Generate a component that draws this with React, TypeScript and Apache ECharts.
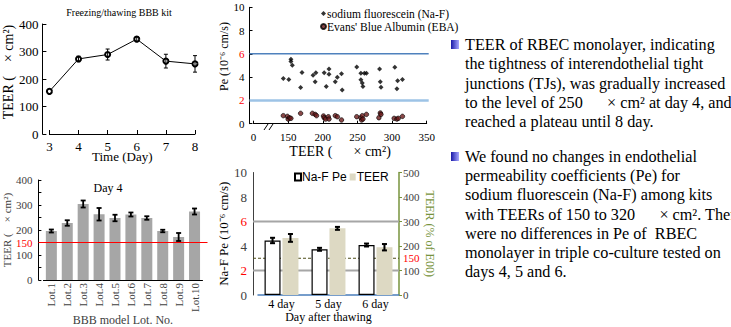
import React, { useEffect, useRef } from 'react';
import * as echarts from 'echarts';

// ---- Chart 1: Freezing/thawing BBB kit ----
const freezeDays = [3, 4, 5, 6, 7, 8];
const freezeTeer = [155, 273, 289, 345, 265, 255];
const freezeErr = [0, 10, 20, 8, 25, 30];

// ---- Chart 2: Pe vs TEER scatter ----
const nafPoints = [
  [143, 3.89], [151, 3.8], [154, 5.54], [154, 5.35], [156, 5.03], [168, 3.1], [170, 4.4],
  [186, 4.17], [189, 3.6], [190, 4.37], [202, 4.37], [205, 3.2], [209, 4.71], [209, 4.25],
  [218, 3.6], [221, 4.0], [227, 4.3], [228, 2.89], [249, 4.88], [255, 4.34], [255, 3.77],
  [257, 3.5], [258, 3.2], [260, 4.34], [263, 4.34], [282, 4.71], [283, 3.6], [284, 3.14],
  [304, 4.86], [307, 3.0], [308, 3.68], [315, 3.8],
];
const ebaPoints = [
  [143, 0.69], [149, 0.63], [150, 0.4], [152, 0.5], [154, 0.46], [168, 0.89], [185, 0.89],
  [189, 0.8], [191, 0.69], [201, 0.66], [202, 0.51], [204, 0.4], [208, 0.6], [209, 0.4],
  [218, 0.69], [221, 0.6], [227, 0.32], [249, 0.6], [255, 0.51], [256, 0.32], [257, 0.69],
  [258, 0.4], [263, 0.8], [281, 0.51], [283, 0.92], [284, 0.8], [303, 0.46], [307, 0.4],
  [309, 0.46], [315, 0.63],
];
const peRefLines = [6, 2];

// ---- Chart 3: Day 4 lots ----
const lots = ['Lot.1', 'Lot.2', 'Lot.3', 'Lot.4', 'Lot.5', 'Lot.6', 'Lot.7', 'Lot.8', 'Lot.9', 'Lot.10'];
const lotTeer = [196, 228, 304, 263, 248, 262, 248, 196, 172, 274];
const lotErr = [6, 11, 14, 25, 13, 8, 7, 5, 16, 12];
const lotThreshold = [150];

// ---- Chart 4: Day after thawing ----
const thawDays = ['4 day', '5 day', '6 day'];
const nafPe = [4.45, 3.73, 4.08];
const nafPeErr = [0.22, 0.12, 0.12];
const teerPct = [233, 272, 195];
const teerPctErr = [16, 6, 13];
const peLines = [6, 2];
const teerLine = [150];

// ---- Text ----
const para1 = [
  'TEER of RBEC monolayer, indicating',
  'the tightness of interendothelial tight',
  'junctions (TJs), was gradually increased',
  'to the level of 250      × cm² at day 4, and',
  'reached a plateau until 8 day.',
];
const para2 = [
  'We found no changes in endothelial',
  'permeability coefficients (Pe) for',
  'sodium fluorescein (Na-F) among kits',
  'with TEERs of 150 to 320      × cm². There',
  'were no differences in Pe of  RBEC',
  'monolayer in triple co-culture tested on',
  'days 4, 5 and 6.',
];

const serif = 'Liberation Serif';
const sans = 'Liberation Sans';

function errorBars(xs: any[], vals: number[], errs: number[], xAxisIndex: number, yAxisIndex: number, o: { offset: number; cap: number; width: number; color: string }) {
  const data = vals.map((v, i) => [xs[i], v - errs[i], v + errs[i]]).filter((_, i) => errs[i] > 0);
  return {
    type: 'custom',
    xAxisIndex,
    yAxisIndex,
    z: 10,
    silent: true,
    encode: { x: 0, y: [1, 2] },
    data,
    renderItem: (params: any, api: any) => {
      const x = api.value(0);
      const lo = api.coord([x, api.value(1)]);
      const hi = api.coord([x, api.value(2)]);
      const cx = lo[0] + o.offset;
      const style = { stroke: o.color, lineWidth: o.width };
      return {
        type: 'group',
        children: [
          { type: 'line', shape: { x1: cx, y1: lo[1], x2: cx, y2: hi[1] }, style },
          { type: 'line', shape: { x1: cx - o.cap, y1: lo[1], x2: cx + o.cap, y2: lo[1] }, style },
          { type: 'line', shape: { x1: cx - o.cap, y1: hi[1], x2: cx + o.cap, y2: hi[1] }, style },
        ],
      };
    },
  };
}

function hLines(values: number[], xVal: any, xAxisIndex: number, yAxisIndex: number, styles: any[], extL: number, extR: number, z: number) {
  return {
    type: 'custom',
    xAxisIndex,
    yAxisIndex,
    z,
    silent: true,
    encode: { x: 0, y: 1 },
    data: values.map((v) => [xVal, v]),
    renderItem: (params: any, api: any) => {
      const cs = params.coordSys;
      const p = api.coord([api.value(0), api.value(1)]);
      return {
        type: 'line',
        shape: { x1: cs.x - extL, y1: p[1], x2: cs.x + cs.width + extR, y2: p[1] },
        style: styles[params.dataIndex],
      };
    },
  };
}

export default function App() {
  const ref = useRef<HTMLDivElement>(null);
  useEffect(() => {
    document.body.style.margin = '0';
    const chart = echarts.init(ref.current!, null, { renderer: 'svg' });
    const black = { color: '#000', width: 1 };
    const option: any = {
      animation: false,
      backgroundColor: '#fff',
      textStyle: { fontFamily: serif },
      title: [
        { text: 'Freezing/thawing BBB kit', left: 119, top: 7, textAlign: 'center', padding: 0, textStyle: { fontSize: 10, fontFamily: serif, fontWeight: 'normal', color: '#000' } },
        { text: 'Day 4', left: 108, top: 182, textAlign: 'center', padding: 0, textStyle: { fontSize: 12, fontFamily: serif, fontWeight: 'normal', color: '#000' } },
      ],
      legend: [
        {
          data: ['sodium fluorescein (Na-F)', "Evans' Blue Albumin (EBA)"],
          orient: 'vertical', left: 320, top: 7, padding: 0, itemGap: 0, itemWidth: 5, itemHeight: 5,
          textStyle: { fontFamily: serif, fontSize: 11.5, lineHeight: 13, color: '#000', padding: [0, 0, 0, -4] },
        },
        {
          data: ['Na-F Pe', 'TEER'],
          orient: 'horizontal', left: 294, top: 171, padding: 0, itemGap: 3, itemWidth: 6, itemHeight: 7, icon: 'rect',
          textStyle: { fontFamily: sans, fontSize: 12, color: '#000', padding: [0, 0, 0, -4] },
        },
      ],
      grid: [
        { left: 49, top: 24, width: 146, height: 110 },
        { left: 253.5, top: 7.3, width: 173.2, height: 116.4 },
        { left: 38.5, top: 180, width: 164, height: 114.3 },
        { left: 258, top: 172.5, width: 141, height: 122.5 },
      ],
      xAxis: [
        {
          gridIndex: 0, type: 'value', min: 3, max: 8, interval: 1, offset: 2,
          axisLine: { show: true, lineStyle: black }, splitLine: { show: false },
          axisTick: { show: true, inside: true, length: 4, lineStyle: black },
          axisLabel: { fontFamily: serif, fontSize: 13, color: '#000', margin: 4 },
          name: 'Time (Day)', nameLocation: 'middle', nameGap: 14, nameMoveOverlap: false,
          nameTextStyle: { fontFamily: serif, fontSize: 13, color: '#000' },
        },
        {
          gridIndex: 1, type: 'value', min: 100, max: 350, interval: 50, offset: 3.5,
          axisLine: { show: true, lineStyle: black }, splitLine: { show: false },
          axisTick: { show: true, inside: true, length: 3, lineStyle: black },
          axisLabel: { fontFamily: serif, fontSize: 11, color: '#000', margin: 4, formatter: (v: number) => (v === 100 ? '0' : String(v)) },
          name: 'TEER (      × cm²)', nameLocation: 'middle', nameGap: 17,
          nameTextStyle: { fontFamily: serif, fontSize: 14, color: '#000' },
        },
        {
          gridIndex: 2, type: 'category', data: lots,
          axisLine: { show: true, lineStyle: black }, axisTick: { show: false },
          axisLabel: { fontFamily: serif, fontSize: 11, color: '#404040', rotate: 90, margin: 3, interval: 0 },
          name: 'BBB model Lot. No.', nameLocation: 'middle', nameGap: 34, nameMoveOverlap: false,
          nameTextStyle: { fontFamily: serif, fontSize: 12, color: '#404040' },
        },
        {
          gridIndex: 3, type: 'category', data: thawDays,
          axisLine: { show: true, lineStyle: { color: '#4a7ebb', width: 1.5 } }, axisTick: { show: false },
          axisLabel: { fontFamily: serif, fontSize: 12, color: '#000', margin: 3 },
          name: 'Day after thawing', nameLocation: 'middle', nameGap: 12,
          nameTextStyle: { fontFamily: serif, fontSize: 12, color: '#000' },
        },
      ],
      yAxis: [
        {
          gridIndex: 0, type: 'value', min: 0, max: 400, interval: 100, offset: 7,
          axisLine: { show: true, lineStyle: black }, splitLine: { show: false },
          axisTick: { show: true, inside: true, length: 4, lineStyle: black },
          axisLabel: { fontFamily: serif, fontSize: 13, color: '#000', margin: 4 },
          name: 'TEER (    × cm²)', nameLocation: 'middle', nameGap: 21, nameRotate: 90,
          nameTextStyle: { fontFamily: serif, fontSize: 14, color: '#000', padding: [0, 0, 0, 14] },
        },
        {
          gridIndex: 1, type: 'value', min: 0, max: 10, interval: 2, offset: 4,
          axisLine: { show: true, lineStyle: black }, splitLine: { show: false },
          axisTick: { show: true, inside: true, length: 3, lineStyle: black },
          axisLabel: {
            fontFamily: serif, fontSize: 11, color: '#000', margin: 5,
            formatter: (v: number) => (v === 6 || v === 2 ? `{r|${v}}` : String(v)),
            rich: { r: { color: '#ff0000', fontFamily: serif, fontSize: 11 } },
          },
          name: 'Pe (10⁻⁶ cm/s)', nameLocation: 'middle', nameGap: 15, nameRotate: 90,
          nameTextStyle: { fontFamily: serif, fontSize: 12, color: '#000', padding: [0, 0, 0, 18] },
        },
        {
          gridIndex: 2, type: 'value', min: 0, max: 400, interval: 50, offset: 5,
          axisLine: { show: true, lineStyle: black }, splitLine: { show: false },
          axisTick: { show: true, inside: true, length: 3, lineStyle: black },
          axisLabel: {
            fontFamily: serif, fontSize: 11, color: '#404040', margin: 6,
            formatter: (v: number) => (v === 150 ? '{r|150}' : v % 100 === 0 ? String(v) : ''),
            rich: { r: { color: '#ff0000', fontFamily: serif, fontSize: 11 } },
          },
          name: 'TEER (    × cm²)', nameLocation: 'middle', nameGap: 18, nameRotate: 90,
          nameTextStyle: { fontFamily: serif, fontSize: 11, color: '#404040' },
        },
        {
          gridIndex: 3, type: 'value', position: 'left', min: 0, max: 10, interval: 2, offset: 5,
          axisLine: { show: true, lineStyle: { color: '#404040', width: 1 } }, splitLine: { show: false },
          axisTick: { show: false },
          axisLabel: {
            fontFamily: serif, fontSize: 13, color: '#404040', margin: 6,
            formatter: (v: number) => (v === 6 || v === 2 ? `{r|${v}}` : String(v)),
            rich: { r: { color: '#ff0000', fontFamily: serif, fontSize: 13 } },
          },
          name: 'Na-F Pe (10⁻⁶ cm/s)', nameLocation: 'middle', nameGap: 17, nameRotate: 90,
          nameTextStyle: { fontFamily: serif, fontSize: 13, color: '#000' },
        },
        {
          gridIndex: 3, type: 'value', position: 'right', min: 0, max: 500, interval: 50,
          axisLine: { show: true, lineStyle: { color: '#77933c', width: 1.5 } }, splitLine: { show: false },
          axisTick: { show: true, inside: false, length: 3, lineStyle: { color: '#77933c' }, customValues: [0, 100, 200, 300, 400, 500] },
          axisLabel: {
            fontFamily: serif, fontSize: 11, color: '#404040', margin: 4,
            formatter: (v: number) => (v === 150 ? '{r|150}' : v % 100 === 0 ? String(v) : ''),
            rich: { r: { color: '#ff0000', fontFamily: serif, fontSize: 11 } },
          },
          name: 'TEER (% of E00)', nameLocation: 'middle', nameGap: 25, nameRotate: -90,
          nameTextStyle: { fontFamily: serif, fontSize: 12, color: '#77933c' },
        },
      ],
      series: [
        {
          name: 'freeze', type: 'line', xAxisIndex: 0, yAxisIndex: 0,
          data: freezeDays.map((d, i) => [d, freezeTeer[i]]),
          symbol: 'emptyCircle', symbolSize: 5,
          lineStyle: { color: '#000', width: 1 }, itemStyle: { color: '#000', borderColor: '#000', borderWidth: 1 },
        },
        errorBars(freezeDays, freezeTeer, freezeErr, 0, 0, { offset: 0, cap: 2, width: 1, color: '#000' }),
        hLines(peRefLines, 100, 1, 1, [
          { stroke: '#4f81bd', lineWidth: 1.5 },
          { stroke: '#9dc3e6', lineWidth: 2.5 },
        ], 4, 2, 1),
        {
          name: 'sodium fluorescein (Na-F)', type: 'scatter', xAxisIndex: 1, yAxisIndex: 1,
          data: nafPoints, symbol: 'diamond', symbolSize: 5, itemStyle: { color: '#000' },
        },
        {
          name: "Evans' Blue Albumin (EBA)", type: 'scatter', xAxisIndex: 1, yAxisIndex: 1,
          data: ebaPoints, symbol: 'circle', symbolSize: 4.5, itemStyle: { color: '#6b1a1a', borderColor: '#000', borderWidth: 0.8 },
        },
        {
          name: 'lots', type: 'bar', xAxisIndex: 2, yAxisIndex: 2, data: lotTeer, barWidth: 11,
          itemStyle: { color: '#a6a6a6' },
        },
        hLines(lotThreshold, 0, 2, 2, [
          { stroke: '#ff0000', lineWidth: 1.2 },
        ], 5, 5, 5),
        errorBars(lots.map((_, i) => i), lotTeer, lotErr, 2, 2, { offset: 0, cap: 2.5, width: 1.8, color: '#000' }),
        hLines(peLines, 0, 3, 3, [
          { stroke: '#a6a6a6', lineWidth: 2 },
          { stroke: '#a6a6a6', lineWidth: 2 },
        ], 5, 0, 1),
        hLines(teerLine, 0, 3, 4, [
          { stroke: '#4d4d1a', lineWidth: 1, lineDash: [3, 2] },
        ], 5, 0, 1),
        {
          name: 'Na-F Pe', type: 'bar', xAxisIndex: 3, yAxisIndex: 3, data: nafPe, barWidth: 16, barGap: '12%', z: 3,
          itemStyle: { color: '#ffffff', borderColor: '#000', borderWidth: 1.2 },
        },
        {
          name: 'TEER', type: 'bar', xAxisIndex: 3, yAxisIndex: 4, data: teerPct, barWidth: 16, barGap: '12%', z: 3,
          itemStyle: { color: '#ddd9c3' },
        },
        errorBars(thawDays.map((_, i) => i), nafPe, nafPeErr, 3, 3, { offset: -8.96, cap: 2.5, width: 2, color: '#000' }),
        errorBars(thawDays.map((_, i) => i), teerPct, teerPctErr, 3, 4, { offset: 8.96, cap: 2.5, width: 2, color: '#000' }),
      ],
      graphic: [
        { type: 'rect', z: 100, shape: { x: 265, y: 125, width: 8, height: 5 }, style: { fill: '#fff' } },
        { type: 'line', z: 101, shape: { x1: 264, y1: 130, x2: 268, y2: 124 }, style: { stroke: '#000', lineWidth: 1 } },
        { type: 'line', z: 101, shape: { x1: 269, y1: 130, x2: 273, y2: 124 }, style: { stroke: '#000', lineWidth: 1 } },
        {
          type: 'rect', z: 100, shape: { x: 451, y: 40, width: 8, height: 9 },
          style: { fill: { type: 'linear', x: 0, y: 0, x2: 1, y2: 0, colorStops: [{ offset: 0, color: '#1a1aa8' }, { offset: 1, color: '#a8a8ff' }] } },
        },
        {
          type: 'rect', z: 100, shape: { x: 451, y: 152, width: 8, height: 9 },
          style: { fill: { type: 'linear', x: 0, y: 0, x2: 1, y2: 0, colorStops: [{ offset: 0, color: '#1a1aa8' }, { offset: 1, color: '#a8a8ff' }] } },
        },
        {
          type: 'text', z: 100, x: 465, y: 35.5,
          style: { text: para1.join('\n'), fontFamily: serif, fontSize: 16.2, lineHeight: 19.2, fill: '#000', verticalAlign: 'top' },
        },
        {
          type: 'text', z: 100, x: 465, y: 147,
          style: { text: para2.join('\n'), fontFamily: serif, fontSize: 16.2, lineHeight: 19.3, fill: '#000', verticalAlign: 'top' },
        },
      ],
    };
    chart.setOption(option);
    return () => chart.dispose();
  }, []);
  return <div ref={ref} style={{ position: 'absolute', left: 0, top: 0, width: 731, height: 327 }} />;
}
